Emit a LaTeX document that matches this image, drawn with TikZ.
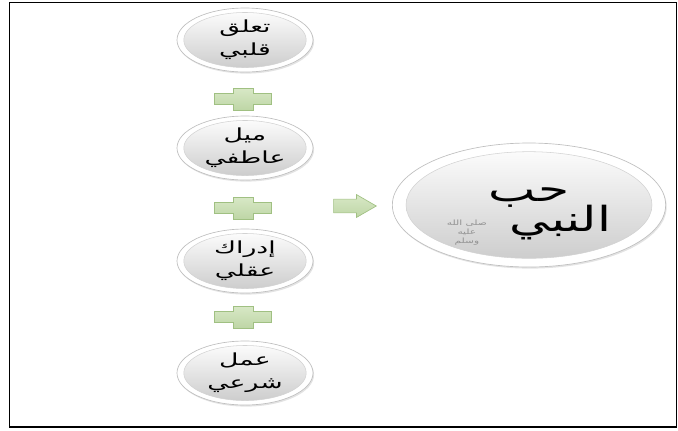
\documentclass[tikz,border=0pt]{standalone}
\usepackage{fontspec}
\usetikzlibrary{shapes.geometric,shapes.arrows,shadows,calc}
\newfontfamily\arabicfont[Script=Arabic,FakeStretch=1.6]{DejaVu Sans}
\newfontfamily\arabicbig[Script=Arabic,FakeStretch=1.45]{DejaVu Sans}
\TeXXeTstate=1
\definecolor{plusfill}{RGB}{190,214,166}
\definecolor{plustop}{RGB}{216,232,198}
\definecolor{plusedge}{RGB}{160,192,130}
\tikzset{
  bubble/.style={ellipse, draw=gray!50, line width=0.5pt, fill=white, inner sep=0pt,
    drop shadow={opacity=0.22, shadow xshift=0.8pt, shadow yshift=-1.2pt},
    path picture={\shade[top color=white, bottom color=gray!42, draw=gray!35, line width=0.4pt]
      let \p1=(path picture bounding box.north east), \p2=(path picture bounding box.center)
      in (\p2) ellipse [x radius={0.9*(\x1-\x2)}, y radius={0.86*(\y1-\y2)}];}},
  smallbubble/.style={bubble, minimum width=102pt, minimum height=48pt,
    font=\arabicfont\fontsize{12.5}{17}\selectfont, align=center},
  bigbubble/.style={bubble, minimum width=205pt, minimum height=93pt,
    font=\arabicbig\fontsize{26}{26}\selectfont, align=center},
  greenarrow/.style={single arrow, draw=plusedge, top color=plustop, bottom color=plusfill,
    line width=0.5pt, inner xsep=0pt, inner ysep=4.9pt, minimum height=32pt,
    single arrow head extend=3.4pt, single arrow tip angle=60},
  plusmark/.pic={\draw[draw=plusedge, top color=plustop, bottom color=plusfill, line width=0.5pt]
    (-28.5,-5.5) -- (-10,-5.5) -- (-10,-11) -- (10,-11) -- (10,-5.5) -- (28.5,-5.5)
    -- (28.5,5.5) -- (10,5.5) -- (10,11) -- (-10,11) -- (-10,5.5) -- (-28.5,5.5) -- cycle;}
}
\newcommand{\sallaglyph}{{\color{gray!85}\arabicbig\fontsize{5.5}{6.6}\selectfont
  \raisebox{-2pt}{$\vcenter{\baselineskip=6.6pt\lineskiplimit=-100pt\halign{\hfil##\hfil\cr
    \beginR صلى الله\endR\cr\beginR عليه\endR\cr\beginR وسلم\endR\cr}}$}}}
\newcommand{\dropline}[2]{\raisebox{-#1}[\height][\depth]{#2}}
\begin{document}
\begin{tikzpicture}[x=0.75pt, y=-0.75pt]
  \useasboundingbox (0,0) rectangle (678,430);
  \draw[line width=1.3pt] (9.5,2.5) rectangle (676.5,427);

  \node[smallbubble] (c1) at (245,40)  {\beginR تعلق\endR\\\beginR قلبي\endR};
  \node[smallbubble] (c2) at (245,148) {\beginR ميل\endR\\\beginR عاطفي\endR};
  \node[smallbubble] (c3) at (245,261) {\beginR إدراك\endR\\\beginR عقلي\endR};
  \node[smallbubble] (c4) at (245,373) {\beginR عمل\endR\\\beginR شرعي\endR};

  \pic at (243,99)  {plusmark};
  \pic at (243,208) {plusmark};
  \pic at (243,317) {plusmark};

  \node[greenarrow] (arr) at (349,206) {};

  \node[bigbubble] (big) at (529,205)
    {\dropline{10pt}{\beginR حب\endR}\\\dropline{7pt}{\sallaglyph\hspace{17pt}\beginR النبي\endR}};
\end{tikzpicture}
\end{document}
